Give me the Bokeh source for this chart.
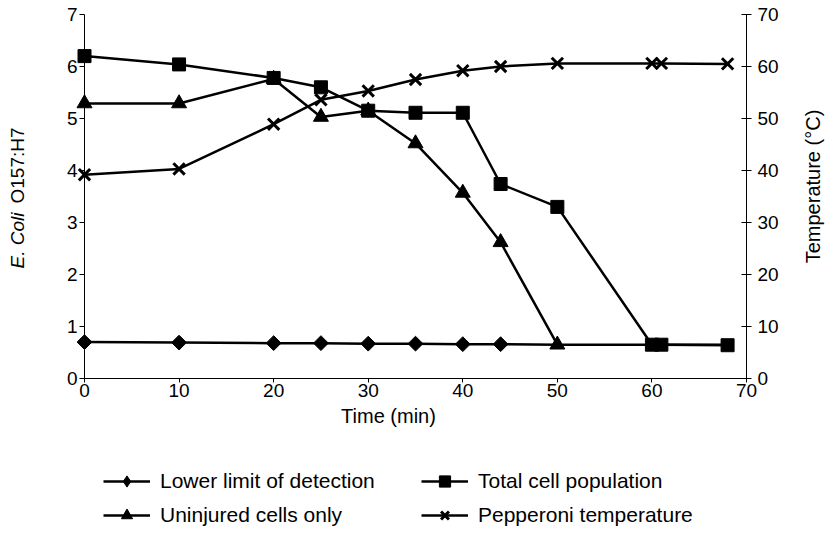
import numpy as np
from bokeh.plotting import figure
from bokeh.models import Range1d, LinearAxis, FixedTicker, Legend, LegendItem, Label
from bokeh.embed import file_html
from bokeh.resources import INLINE

# ---- data ----
time_limit = [0, 10, 20, 25, 30, 35, 40, 44, 50, 60, 61, 68]
limit_vals = [0.70, 0.69, 0.68, 0.68, 0.67, 0.67, 0.66, 0.66, 0.65, 0.65, 0.65, 0.65]
limit_marked = 8  # diamonds shown at the first 8 sampling times

time_total = [0, 10, 20, 25, 30, 35, 40, 44, 50, 60, 61, 68]
total_vals = [6.20, 6.04, 5.78, 5.60, 5.15, 5.11, 5.11, 3.74, 3.30, 0.65, 0.65, 0.64]

time_uninj = [0, 10, 20, 25, 30, 35, 40, 44, 50]
uninj_vals = [5.29, 5.29, 5.76, 5.03, 5.15, 4.52, 3.57, 2.62, 0.65]

time_temp = [0, 10, 20, 25, 30, 35, 40, 44, 50, 60, 61, 68]
temp_vals = [39.2, 40.3, 48.9, 53.6, 55.3, 57.5, 59.2, 60.0, 60.6, 60.6, 60.6, 60.5]

x_ticks = [0, 10, 20, 30, 40, 50, 60, 70]
y_ticks = [0, 1, 2, 3, 4, 5, 6, 7]
temp_ticks = [0, 10, 20, 30, 40, 50, 60, 70]

FONT = "Liberation Sans"

# ---- layout: the frame covers the whole canvas, the axes sit at fixed places ----
W, H = 830, 534
PL, PR, PT, PB = 84, 746, 14, 378          # pixel box of the axes
x_lo, x_hi = x_ticks[0], x_ticks[-1]
y_lo, y_hi = y_ticks[0], y_ticks[-1]
t_lo, t_hi = temp_ticks[0], temp_ticks[-1]
xpp = (PR - PL) / (x_hi - x_lo)
ypp = (PB - PT) / (y_hi - y_lo)
tpp = (PB - PT) / (t_hi - t_lo)

p = figure(width=W, height=H, output_backend="svg", toolbar_location=None,
           x_range=Range1d(x_lo - PL / xpp, x_hi + (W - PR) / xpp),
           y_range=Range1d(y_lo - (H - PB) / ypp, y_hi + PT / ypp),
           x_axis_type=None, y_axis_type=None,
           min_border_left=0, min_border_right=0, min_border_top=0,
           min_border_bottom=0)
p.extra_y_ranges = {"temp": Range1d(t_lo - (H - PB) / tpp, t_hi + PT / tpp)}
p.grid.visible = False
p.outline_line_color = None
p.background_fill_color = "white"
p.border_fill_color = "white"

xaxis = LinearAxis(ticker=FixedTicker(ticks=x_ticks), fixed_location=y_lo,
                   bounds=(x_lo, x_hi))
yaxis = LinearAxis(ticker=FixedTicker(ticks=y_ticks), fixed_location=x_lo,
                   bounds=(y_lo, y_hi))
raxis = LinearAxis(y_range_name="temp", ticker=FixedTicker(ticks=temp_ticks),
                   fixed_location=x_hi, bounds=(t_lo, t_hi))
p.add_layout(xaxis, "below")
p.add_layout(yaxis, "left")
p.add_layout(raxis, "right")

for ax in [xaxis, yaxis, raxis]:
    ax.axis_line_color = "black"
    ax.axis_line_width = 1
    ax.major_tick_line_color = "black"
    ax.minor_tick_line_color = None
    ax.major_tick_out = 5
    ax.major_tick_in = 0
    ax.major_label_text_font = FONT
    ax.major_label_text_font_size = "19px"
    ax.major_label_text_color = "black"

xaxis.major_tick_out = 4
xaxis.major_label_standoff = 1
yaxis.major_label_standoff = 2
raxis.major_tick_in = 5
raxis.major_label_standoff = 6

LW = 2.5
# lower limit of detection
l1 = p.line(time_limit, limit_vals, line_color="black", line_width=LW)
# diamond used for the legend key; it lies fully under the rotated squares below
s1_key = p.scatter(time_limit[:limit_marked], limit_vals[:limit_marked], marker="diamond",
                   size=12, fill_color="black", line_color="black")
s1 = p.scatter(time_limit[:limit_marked], limit_vals[:limit_marked], marker="square",
               angle=np.pi / 4, size=10.5, fill_color="black", line_color="black")
# uninjured cells
l2 = p.line(time_uninj, uninj_vals, line_color="black", line_width=LW)
s2 = p.scatter(time_uninj, uninj_vals, marker="triangle", size=15,
               fill_color="black", line_color="black")
# total cell population
l3 = p.line(time_total, total_vals, line_color="black", line_width=LW)
s3 = p.scatter(time_total, total_vals, marker="square", size=13,
               fill_color="black", line_color="black")
# pepperoni temperature
l4 = p.line(time_temp, temp_vals, line_color="black", line_width=LW, y_range_name="temp")
s4 = p.scatter(time_temp, temp_vals, marker="x", size=16, line_color="black",
               line_width=3, y_range_name="temp")


def lab(text, x, y, angle=0.0, align="center", style="normal", size="20px"):
    # x, y: canvas pixels from the top-left corner
    return Label(x=x, y=H - y, x_units="screen", y_units="screen", text=text,
                 angle=angle, text_align=align, text_baseline="middle",
                 text_font=FONT, text_font_size=size, text_font_style=style,
                 text_color="black")


p.add_layout(lab("Time (min)", 388, 415))
p.add_layout(lab("E. Coli", 17, 268, np.pi / 2, "left", "italic", "19px"))
p.add_layout(lab("O157:H7", 17, 203, np.pi / 2, "left", "normal", "19px"))
p.add_layout(lab("Temperature (°C)", 812, 186, np.pi / 2, "center", "normal", "20px"))

legend = Legend(items=[LegendItem(label="Lower limit of detection", renderers=[l1, s1_key]),
                       LegendItem(label="Uninjured cells only", renderers=[l2, s2]),
                       LegendItem(label="Total cell population", renderers=[l3, s3]),
                       LegendItem(label="Pepperoni temperature", renderers=[l4, s4])],
                location=(103, 5), orientation="vertical", ncols=2,
                glyph_width=47, glyph_height=28, label_height=28, label_width=255,
                label_standoff=10, spacing=6, padding=0, margin=0,
                border_line_color=None, background_fill_alpha=0,
                label_text_font=FONT, label_text_font_size="21px",
                label_text_color="black")
p.add_layout(legend, "center")

open("out.html", "w").write(file_html(p, INLINE))
